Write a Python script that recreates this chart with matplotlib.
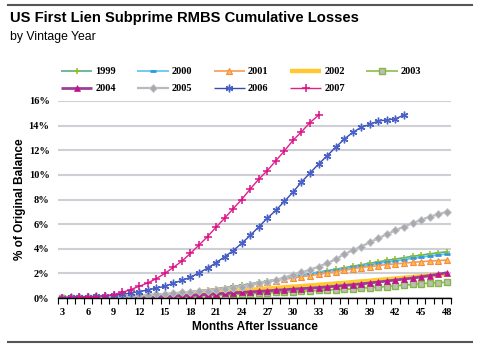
import matplotlib
matplotlib.use("Agg")
import matplotlib.pyplot as plt
from matplotlib.lines import Line2D
from matplotlib.ticker import FixedLocator, PercentFormatter

months = list(range(3, 49))

loss_1999 = [0.00, 0.00, 0.00, 0.01, 0.01, 0.02, 0.04, 0.06, 0.09, 0.12, 0.16, 0.21, 0.27, 0.33, 0.40,
             0.48, 0.56, 0.65, 0.74, 0.84, 0.94, 1.04, 1.15, 1.26, 1.38, 1.50, 1.62, 1.74, 1.86, 1.98,
             2.10, 2.22, 2.34, 2.46, 2.58, 2.70, 2.82, 2.94, 3.05, 3.16, 3.27, 3.38, 3.48, 3.58, 3.67, 3.76]
loss_2000 = [0.00, 0.00, 0.01, 0.01, 0.02, 0.03, 0.05, 0.07, 0.10, 0.14, 0.18, 0.23, 0.29, 0.36, 0.43,
             0.51, 0.59, 0.67, 0.76, 0.85, 0.94, 1.03, 1.13, 1.24, 1.35, 1.47, 1.59, 1.71, 1.83, 1.94,
             2.05, 2.16, 2.27, 2.38, 2.49, 2.60, 2.71, 2.82, 2.92, 3.02, 3.12, 3.22, 3.32, 3.41, 3.50, 3.58]
loss_2001 = [0.00, 0.00, 0.01, 0.01, 0.02, 0.03, 0.05, 0.07, 0.10, 0.14, 0.18, 0.23, 0.29, 0.35, 0.42,
             0.50, 0.58, 0.66, 0.74, 0.83, 0.92, 1.00, 1.10, 1.20, 1.30, 1.42, 1.52, 1.63, 1.73, 1.81,
             1.93, 2.04, 2.14, 2.26, 2.36, 2.47, 2.55, 2.63, 2.72, 2.77, 2.83, 2.90, 2.95, 3.00, 3.04, 3.08]
loss_2002 = [0.00, 0.00, 0.01, 0.02, 0.03, 0.04, 0.06, 0.08, 0.10, 0.13, 0.16, 0.19, 0.22, 0.26, 0.30,
             0.34, 0.38, 0.43, 0.47, 0.52, 0.57, 0.62, 0.66, 0.72, 0.77, 0.81, 0.87, 0.92, 0.96, 1.02,
             1.07, 1.12, 1.18, 1.23, 1.29, 1.35, 1.40, 1.47, 1.53, 1.58, 1.65, 1.71, 1.77, 1.83, 1.89, 1.95]
loss_2003 = [0.00, 0.00, 0.00, 0.00, 0.00, 0.01, 0.01, 0.02, 0.03, 0.04, 0.05, 0.07, 0.08, 0.10, 0.12,
             0.14, 0.17, 0.20, 0.23, 0.26, 0.29, 0.32, 0.36, 0.39, 0.42, 0.45, 0.48, 0.52, 0.55, 0.58,
             0.62, 0.65, 0.68, 0.71, 0.74, 0.79, 0.84, 0.88, 0.93, 0.99, 1.05, 1.10, 1.16, 1.21, 1.25, 1.28]
loss_2004 = [0.00, 0.00, 0.00, 0.01, 0.01, 0.02, 0.03, 0.04, 0.05, 0.07, 0.09, 0.11, 0.13, 0.16, 0.19,
             0.22, 0.26, 0.30, 0.34, 0.38, 0.42, 0.46, 0.50, 0.54, 0.58, 0.63, 0.67, 0.72, 0.76, 0.80,
             0.85, 0.90, 0.96, 1.02, 1.08, 1.15, 1.22, 1.30, 1.38, 1.46, 1.54, 1.62, 1.72, 1.82, 1.93, 2.05]
loss_2005 = [0.01, 0.02, 0.03, 0.04, 0.06, 0.08, 0.10, 0.13, 0.17, 0.21, 0.25, 0.30, 0.34, 0.39, 0.45,
             0.50, 0.54, 0.59, 0.65, 0.74, 0.85, 0.93, 1.03, 1.18, 1.33, 1.48, 1.66, 1.90, 2.08, 2.30,
             2.55, 2.82, 3.15, 3.55, 3.88, 4.18, 4.52, 4.86, 5.17, 5.50, 5.80, 6.08, 6.34, 6.60, 6.80, 7.00]
loss_2006 = [0.03, 0.05, 0.07, 0.10, 0.13, 0.18, 0.24, 0.30, 0.40, 0.52, 0.65, 0.80, 0.95, 1.20, 1.43,
             1.68, 2.05, 2.42, 2.87, 3.35, 3.85, 4.44, 5.08, 5.78, 6.48, 7.12, 7.85, 8.60, 9.42, 10.15,
             10.88, 11.55, 12.24, 12.90, 13.45, 13.87, 14.10, 14.38, 14.46, 14.55, 14.87]
loss_2007 = [0.02, 0.03, 0.05, 0.07, 0.10, 0.16, 0.26, 0.45, 0.68, 0.95, 1.22, 1.57, 2.00, 2.48, 3.00,
             3.62, 4.30, 4.98, 5.75, 6.48, 7.25, 8.00, 8.85, 9.65, 10.35, 11.15, 11.95, 12.80, 13.50,
             14.25, 14.85]

x_ticks = list(range(3, 49, 3))
y_ticks = [0, 2, 4, 6, 8, 10, 12, 14, 16]

series = [
    ("1999", loss_1999, dict(color="#55AE86", lw=1.2, marker="+", ms=5, mec="#8DBE2F", mew=1.1)),
    ("2000", loss_2000, dict(color="#6CC4EE", lw=1.3, marker="_", ms=4, mec="#2E9BE0", mew=2)),
    ("2001", loss_2001, dict(color="#F79A55", lw=1.2, marker="^", ms=4.8, mfc="#FFC13B", mec="#F5894A", mew=0.8)),
    ("2002", loss_2002, dict(color="#FFC830", lw=3.2)),
    ("2003", loss_2003, dict(color="#8DBE4C", lw=1.2, marker="s", ms=4.2, mfc="#BDBDBD", mec="#84B83F", mew=1.0)),
    ("2004", loss_2004, dict(color="#9A3E98", lw=2.0, marker="^", ms=4.8, mfc="#C2148A", mec="#C2148A", mew=0.5)),
    ("2005", loss_2005, dict(color="#B8B9BD", lw=1.6, marker="D", ms=4.0, mfc="#A8A9AD", mec="#C8C9CC", mew=0.6)),
    ("2006", loss_2006, dict(color="#3A4CB2", lw=1.0, marker=(6, 2, 0), ms=5.5, mec="#4A62C8", mew=1.0)),
    ("2007", loss_2007, dict(color="#E0208E", lw=1.0, marker="+", ms=5.5, mec="#D81488", mew=1.1)),
]

fig = plt.figure(figsize=(4.92, 3.48), dpi=100)
ax = fig.add_axes([58 / 492, 1 - 298 / 348, (451 - 58) / 492, (298 - 101) / 348])

handles = {}
for name, vals, style in series:
    (h,) = ax.plot(months[:len(vals)], vals, label=name, solid_capstyle="butt", **style)
    handles[name] = h

ax.set_xlim(2.5, 48.5)
ax.set_ylim(0, 16)
ax.yaxis.set_major_locator(FixedLocator(y_ticks))
ax.yaxis.set_major_formatter(PercentFormatter(decimals=0))
ax.xaxis.set_major_locator(FixedLocator(x_ticks))
ax.xaxis.set_minor_locator(FixedLocator([m + 0.5 for m in range(2, 49)]))

ax.grid(axis="y", color="#CFCFD6", lw=1.5)
ax.set_axisbelow(True)
for side in ("left", "right", "top"):
    ax.spines[side].set_visible(False)
ax.spines["bottom"].set_color("black")
ax.spines["bottom"].set_linewidth(1.0)
ax.spines["bottom"].set_zorder(5)

tick_font = dict(family="Liberation Serif", weight="bold", size=7.5)
ax.tick_params(axis="x", which="major", length=0, pad=7)
ax.tick_params(axis="x", which="minor", length=4, width=0.8, color="black", direction="out")
ax.tick_params(axis="y", length=0, pad=6)
for lab in ax.get_xticklabels() + ax.get_yticklabels():
    lab.set_fontfamily(tick_font["family"])
    lab.set_fontweight(tick_font["weight"])
    lab.set_fontsize(tick_font["size"])

ax.set_xlabel("Months After Issuance", family="Liberation Sans", weight="bold", size=8.5, labelpad=3)
ax.set_ylabel("% of Original Balance", family="Liberation Sans", weight="bold", size=8.5, labelpad=2)

fig.text(10 / 492, 1 - 22 / 348, "US First Lien Subprime RMBS Cumulative Losses",
         family="Liberation Sans", weight="bold", size=10.6, va="baseline")
fig.text(10 / 492, 1 - 40 / 348, "by Vintage Year", family="Liberation Sans", size=8.8, va="baseline")

order = ["1999", "2004", "2000", "2005", "2001", "2006", "2002", "2007", "2003"]
fig.legend([handles[n] for n in order], order, ncol=5, loc="upper left",
           bbox_to_anchor=(61 / 492, 1 - 67 / 348), frameon=False,
           prop=dict(family="Liberation Serif", weight="bold", size=7.5),
           handlelength=3.0, handletextpad=0.3, columnspacing=2.05,
           labelspacing=0.75, borderaxespad=0, borderpad=0, markerscale=1.0)

for yy in (5, 342):
    fig.add_artist(Line2D([8 / 492, 472 / 492], [1 - yy / 348] * 2, color="#555555", lw=1.5,
                          transform=fig.transFigure))

fig.savefig("out.png", dpi=100)
